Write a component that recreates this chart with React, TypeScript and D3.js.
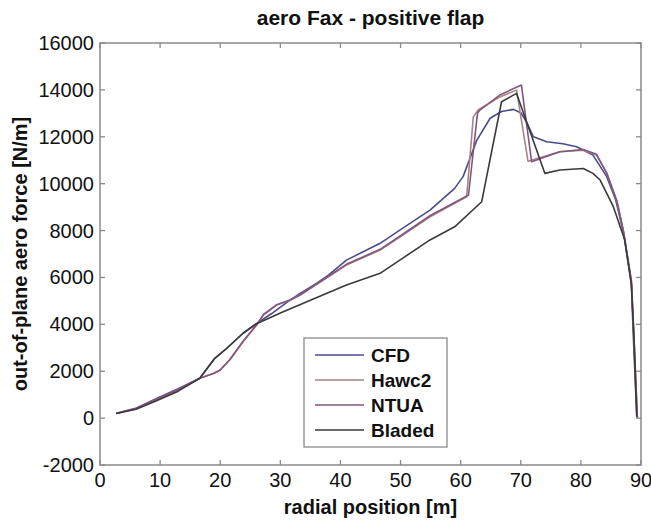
import React from "react";
import * as d3 from "d3";

const xTicks = [0, 10, 20, 30, 40, 50, 60, 70, 80, 90];
const yTicks = [-2000, 0, 2000, 4000, 6000, 8000, 10000, 12000, 14000, 16000];

const cfdR = [2.7, 6, 9.5, 13, 16.6, 19.1, 21.1, 23.8, 26.1, 28.5, 31.6, 33.3, 36, 38, 41, 46.6, 50, 54.9, 59, 60.4, 62.7, 64.9, 66.8, 68.8, 70.1, 71, 72.1, 74.3, 77, 79.3, 82, 84.3, 85.8, 87.1, 88.4, 88.7, 89.3];
const cfdV = [200, 420, 850, 1250, 1700, 2550, 2980, 3620, 4040, 4450, 5030, 5320, 5750, 6100, 6740, 7455, 8040, 8875, 9800, 10300, 11860, 12790, 13080, 13170, 13000, 12600, 12000, 11790, 11700, 11575, 11220, 10300, 9300, 7880, 5750, 3620, 60];

const hawcR = [2.7, 6, 9.5, 13, 16.6, 18.9, 20, 21.6, 23.8, 26.1, 27.2, 29.4, 31.6, 33.3, 41, 46.6, 50, 54.9, 59, 61.0, 62.1, 62.9, 66.5, 69.3, 71.2, 76.5, 80.4, 82.6, 84.3, 86, 87.1, 88.4, 88.8, 89.4];
const hawcV = [200, 400, 800, 1200, 1700, 1910, 2050, 2480, 3260, 3970, 4400, 4820, 5030, 5250, 6530, 7170, 7740, 8590, 9160, 9440, 12850, 13140, 13700, 13990, 10960, 11360, 11430, 11220, 10450, 9250, 7950, 5850, 3600, 0];

const ntuaR = [2.7, 6, 9.5, 13, 16.6, 18.9, 20, 21.6, 23.8, 26.1, 27.2, 29.4, 31.6, 33.3, 41, 46.6, 50, 54.9, 59, 61.3, 62.8, 63.2, 66.5, 70.1, 71.8, 76.5, 80.4, 82.6, 84.3, 86, 87.1, 88.4, 88.8, 89.4];
const ntuaV = [210, 420, 820, 1220, 1700, 1900, 2050, 2500, 3280, 4000, 4420, 4840, 5040, 5260, 6560, 7200, 7780, 8630, 9200, 9515, 13000, 13140, 13780, 14210, 10935, 11360, 11460, 11250, 10450, 9250, 7950, 5850, 3600, 0];

const bladedR = [2.7, 6, 9.5, 13, 16.6, 19.1, 21.1, 23.8, 26.1, 28, 30, 35, 41, 46.6, 50, 54.9, 59, 63.5, 66.8, 69.3, 74, 76.5, 80.4, 82, 83.2, 85.4, 87.3, 88.4, 88.8, 89.3];
const bladedV = [200, 380, 750, 1150, 1700, 2550, 2980, 3620, 4040, 4250, 4480, 5025, 5680, 6175, 6760, 7600, 8160, 9230, 13495, 13850, 10440, 10580, 10650, 10440, 10155, 9020, 7600, 5700, 3600, 60];

const seriesNames = ["CFD", "Hawc2", "NTUA", "Bladed"];
const seriesColors = ["#4b4b8c", "#a48484", "#84557f", "#3a3a3a"];

export default function App() {
  const W = 651, H = 520;
  const left = 100, right = 641, top = 43, bottom = 465;
  const x = d3.scaleLinear().domain([0, 90]).range([left, right]);
  const y = d3.scaleLinear().domain([-2000, 16000]).range([bottom, top]);
  const line = d3.line<[number, number]>().x(d => x(d[0])).y(d => y(d[1]));
  const data: [number, number][][] = [
    cfdR.map((r, i) => [r, cfdV[i]]),
    hawcR.map((r, i) => [r, hawcV[i]]),
    ntuaR.map((r, i) => [r, ntuaV[i]]),
    bladedR.map((r, i) => [r, bladedV[i]]),
  ];
  const font = "'Liberation Sans', Arial, Helvetica, sans-serif";
  const axisColor = "#8a8a8a";
  const tl = 5;
  const legX = 304, legY = 338, legW = 143, legH = 109;
  return (
    <svg width={W} height={H} style={{ position: "absolute", left: 0, top: 0, background: "#fff" }} fontFamily={font}>
      <rect x={0} y={0} width={W} height={H} fill="#fff" />
      <g>
        {data.map((d, i) => (
          <path key={i} d={line(d) || ""} fill="none" stroke={seriesColors[i]} strokeWidth={1.6} strokeLinejoin="round" />
        ))}
      </g>
      <rect x={left} y={top} width={right - left} height={bottom - top} fill="none" stroke={axisColor} strokeWidth={1.5} />
      {xTicks.map(t => (
        <g key={"x" + t}>
          <line x1={x(t)} x2={x(t)} y1={bottom} y2={bottom - tl} stroke={axisColor} strokeWidth={1.3} />
          <line x1={x(t)} x2={x(t)} y1={top} y2={top + tl} stroke={axisColor} strokeWidth={1.3} />
          <text x={x(t)} y={487} textAnchor="middle" fontSize={20} fill="#111">{t}</text>
        </g>
      ))}
      {yTicks.map(t => (
        <g key={"y" + t}>
          <line x1={left} x2={left + tl} y1={y(t)} y2={y(t)} stroke={axisColor} strokeWidth={1.3} />
          <line x1={right} x2={right - tl} y1={y(t)} y2={y(t)} stroke={axisColor} strokeWidth={1.3} />
          <text x={94} y={y(t) + 7} textAnchor="end" fontSize={20} fill="#111">{t}</text>
        </g>
      ))}
      <text x={(left + right) / 2} y={25} textAnchor="middle" fontSize={21} fontWeight="bold" fill="#111">aero Fax - positive flap</text>
      <text x={(left + right) / 2} y={514} textAnchor="middle" fontSize={20} fontWeight="bold" fill="#111">radial position [m]</text>
      <text transform={`translate(27,${(top + bottom) / 2}) rotate(-90)`} textAnchor="middle" fontSize={20} fontWeight="bold" fill="#111">out-of-plane aero force [N/m]</text>
      <g>
        <rect x={legX} y={legY} width={legW} height={legH} fill="#fff" stroke={axisColor} strokeWidth={1.3} />
        {seriesNames.map((n, i) => (
          <g key={n}>
            <line x1={315} x2={364} y1={355 + i * 25} y2={355 + i * 25} stroke={seriesColors[i]} strokeWidth={1.6} />
            <text x={371} y={355 + i * 25 + 7} fontSize={19} fontWeight="bold" fill="#111">{n}</text>
          </g>
        ))}
      </g>
    </svg>
  );
}
